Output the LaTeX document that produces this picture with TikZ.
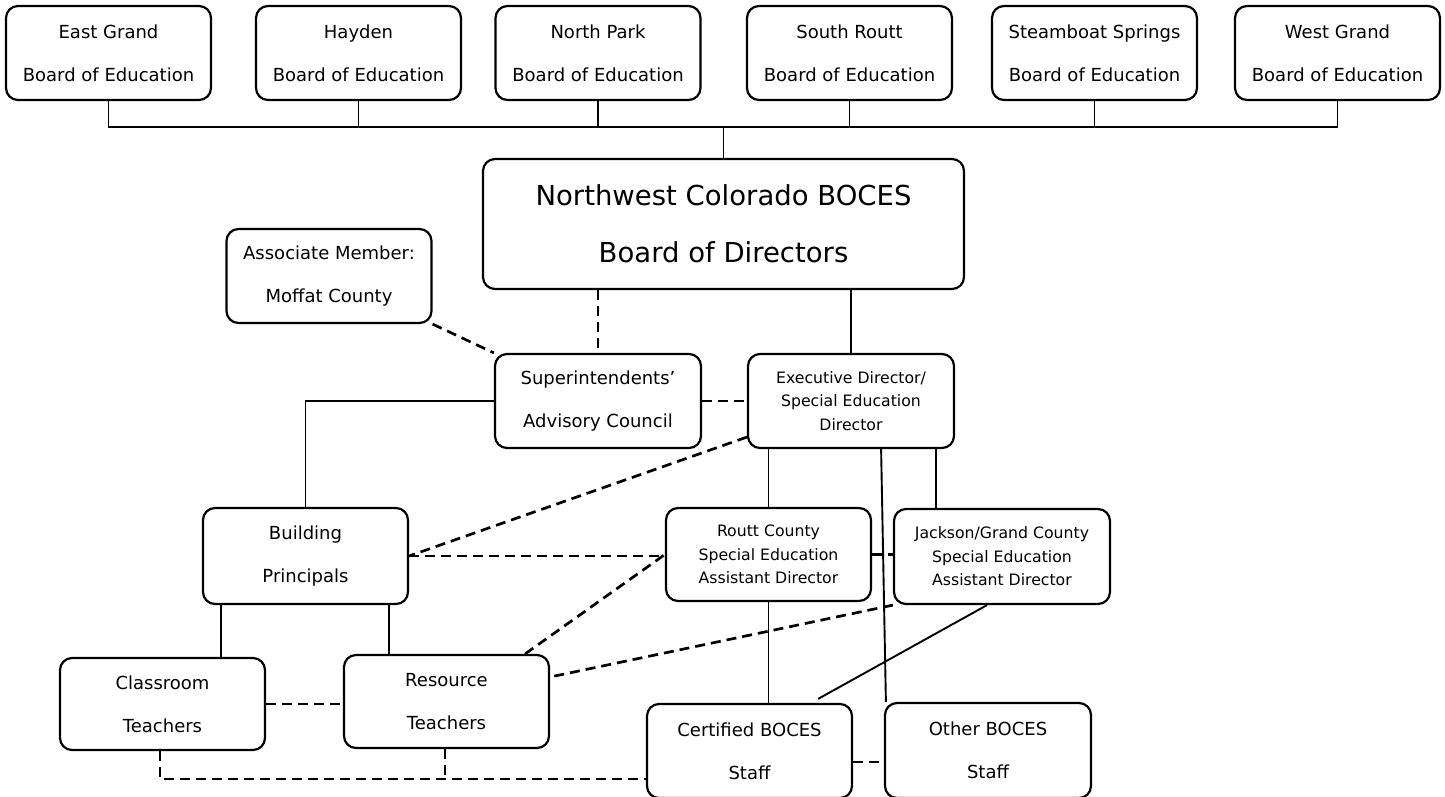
\documentclass[tikz,border=0pt]{standalone}
\usepackage{fontspec}
\setmainfont{DejaVu Sans}
\usepackage{tikz}
\usetikzlibrary{positioning}

\begin{document}
\begin{tikzpicture}[x=1pt,y=-1pt,
    orgbox/.style={draw, line width=2.2pt, rounded corners=12pt, align=center, inner sep=0pt,
        minimum width=205pt, minimum height=94pt, font=\fontsize{18}{43}\selectfont},
    smallbox/.style={orgbox, font=\fontsize{15.7}{23.5}\selectfont},
    solidline/.style={line width=1.9pt},
    dashline/.style={line width=2.7pt, dash pattern=on 10pt off 6pt}]
    \useasboundingbox (0,0) rectangle (1445,797);
    % Member districts:
    \foreach \nm/\cx/\lbl in {eg/108.5/East Grand, hay/358.5/Hayden, np/598/North Park,
            sr/849.5/South Routt, ss/1094.5/Steamboat Springs, wg/1337.5/West Grand}
        \node[orgbox] (\nm) at (\cx,53) {\lbl\\Board of Education};
    % Board and council
    \node[orgbox, minimum width=481pt, minimum height=130pt, font=\fontsize{27.5}{57}\selectfont]
        (bod) at (723.5,224) {Northwest Colorado BOCES\\Board of Directors};
    \node[orgbox] (amc) at (329,276) {Associate Member:\\Moffat County};
    \node[orgbox, minimum width=206pt] (sac) at (598,401) {Superintendents'\\Advisory Council};
    \node[smallbox, minimum width=206pt] (exd) at (851,401) {Executive Director/\\Special Education\\Director};
    % Middle row
    \node[orgbox, minimum height=96pt] (bp) at (305.5,556) {Building\\Principals};
    \node[smallbox, minimum height=93pt] (rc) at (768.5,554.5) {Routt County\\Special Education\\Assistant Director};
    \node[smallbox, minimum width=216pt, minimum height=95pt] (jgc) at (1002,556.5) {Jackson/Grand County\\Special Education\\Assistant Director};
    % Staff
    \node[orgbox, minimum height=92pt] (ct) at (162.5,704) {Classroom\\Teachers};
    \node[orgbox, minimum height=93pt] (rt) at (446.5,701.5) {Resource\\Teachers};
    \node[orgbox] (cbs) at (749.5,751) {Certified BOCES\\Staff};
    \node[orgbox, minimum width=206pt, minimum height=95pt] (obs) at (988,750.5) {Other BOCES\\Staff};

    % district bus
    \coordinate (bus) at (723.5,127);
    \draw[solidline] (eg.south) |- (wg.south |- bus) -- (wg.south);
    \foreach \nm in {hay,np,sr,ss}
        \draw[solidline] (\nm.south) -- (\nm.south |- bus);
    \draw[solidline] (bus) -- (bod.north);

    % solid lines
    \draw[solidline] (bod.south -| exd.north) -- (exd.north);
    \draw[solidline] (sac.west) -| (bp.north);
    \draw[solidline] (exd.south -| rc.north) -- (rc.north);
    \draw[solidline] ([xshift=-19pt]exd.south east) -- ([xshift=-19pt]exd.south east |- jgc.north);
    \draw[solidline] ([xshift=-74pt]exd.south east) -- ([xshift=2pt]obs.north west);
    \draw[solidline] (rc.south) -- (rc.south |- cbs.north);
    \draw[solidline] ([xshift=-15pt]jgc.south) -- ([xshift=-35pt,yshift=4pt]cbs.north east);
    \draw[solidline] ([xshift=19pt]bp.south west) -- ([xshift=19pt]bp.south west |- ct.north);
    \draw[solidline] ([xshift=-20pt]bp.south east) -- ([xshift=-20pt]bp.south east |- rt.north);

    % dashed lines
    \draw[dashline] (bod.south -| sac.north) -- (sac.north);
    \draw[dashline] (amc.south east) -- (sac.north west);
    \draw[dashline] (sac.east) -- (sac.east -| exd.west);
    \draw[dashline] ([yshift=12pt]exd.south west) -- (bp.east);
    \draw[dashline] (bp.east) -- (bp.east -| rc.west);
    \draw[dashline] ([xshift=-25pt]rt.north east) -- (rc.west);
    \draw[dashline] (rc.east) -- (rc.east -| jgc.west);
    \draw[dashline] (jgc.south west) -- ([yshift=24.5pt]rt.east);
    \draw[dashline] (ct.east) -- (ct.east -| rt.west);
    \coordinate (low) at (160,779);
    \draw[dashline] ([xshift=-2.5pt]ct.south) -- (low) -- (low -| cbs.west);
    \draw[dashline] ([xshift=-1.5pt]rt.south) -- ([xshift=-1.5pt]rt.south |- low);
    \draw[dashline] ([yshift=-11pt]cbs.east) -- ([yshift=-11pt]cbs.east -| obs.west);
\end{tikzpicture}
\end{document}
